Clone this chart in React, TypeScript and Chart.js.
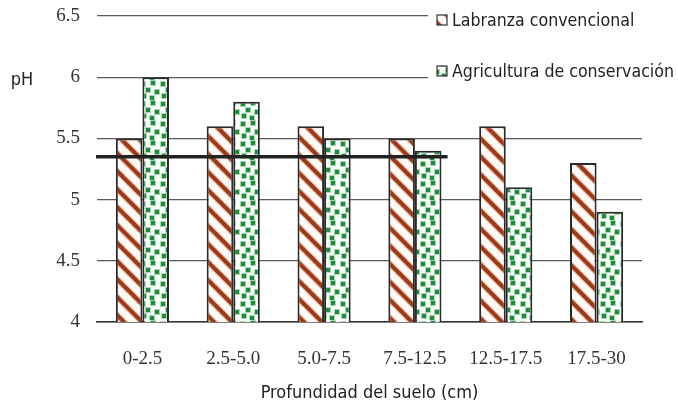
import React, { useEffect, useRef } from 'react';
import { Chart, registerables } from 'chart.js';

Chart.register(...registerables);

const categories = ['0-2.5', '2.5-5.0', '5.0-7.5', '7.5-12.5', '12.5-17.5', '17.5-30'];
const labranza = [5.5, 5.6, 5.6, 5.5, 5.6, 5.3];
const agricultura = [6.0, 5.8, 5.5, 5.4, 5.1, 4.9];
const seriesNames = ['Labranza convencional', 'Agricultura de conservación'];
const yMin = 4;
const yMax = 6.5;
const yStep = 0.5;
const refLineValue = 5.35;
const refLineLastCategory = 3;
const xTitle = 'Profundidad del suelo (cm)';
const yTitle = 'pH';

const NARROW = "'Liberation Sans Narrow', 'DejaVu Sans Condensed', 'Arial Narrow', sans-serif";
const SERIF = "'Liberation Serif', 'DejaVu Serif', serif";

function makeStripes(): CanvasPattern | string {
  const s = 18;
  const c = document.createElement('canvas');
  c.width = s;
  c.height = s;
  const g = c.getContext('2d');
  if (!g) return '#a23a14';
  g.fillStyle = '#fdfaf6';
  g.fillRect(0, 0, s, s);
  g.strokeStyle = 'rgba(170,75,35,0.35)';
  g.lineWidth = 6;
  for (let k = -1; k <= 1; k++) {
    g.beginPath();
    g.moveTo(k * s - 2, -2);
    g.lineTo(k * s + s + 2, s + 2);
    g.stroke();
  }
  g.strokeStyle = '#a03a16';
  g.lineWidth = 4;
  for (let k = -1; k <= 1; k++) {
    g.beginPath();
    g.moveTo(k * s - 2, -2);
    g.lineTo(k * s + s + 2, s + 2);
    g.stroke();
  }
  return g.createPattern(c, 'repeat') || '#a23a14';
}

function makeDots(): CanvasPattern | string {
  const s = 20;
  const c = document.createElement('canvas');
  c.width = s;
  c.height = s;
  const g = c.getContext('2d');
  if (!g) return '#1f8a3a';
  g.fillStyle = '#fbfdfb';
  g.fillRect(0, 0, s, s);
  const dots = [
    [1, 2], [11, 1], [6, 8], [15, 10], [2, 14], [10, 16],
  ];
  for (const [x, y] of dots) {
    g.fillStyle = 'rgba(70,170,90,0.45)';
    g.fillRect(x - 1, y - 1, 6, 6);
    g.fillStyle = '#1e8c3c';
    g.fillRect(x, y, 4, 4);
  }
  return g.createPattern(c, 'repeat') || '#1f8a3a';
}

export default function App() {
  const ref = useRef<HTMLCanvasElement | null>(null);

  useEffect(() => {
    if (!ref.current) return;
    const stripes = makeStripes();
    const dots = makeDots();
    const fills = [stripes, dots];

    const overlay = {
      id: 'overlay',
      afterDatasetsDraw(chart: any) {
        const { ctx, scales } = chart;
        const x = scales.x;
        const y = scales.y;
        const slot = x.getPixelForValue(1) - x.getPixelForValue(0);
        const x1 = x.left - 1;
        const x2 = x.getPixelForValue(refLineLastCategory) + slot * 0.36;
        const yy = y.getPixelForValue(refLineValue);
        ctx.save();
        ctx.strokeStyle = '#222';
        ctx.lineWidth = 3.5;
        ctx.beginPath();
        ctx.moveTo(x1, yy);
        ctx.lineTo(x2, yy);
        ctx.stroke();
        ctx.restore();
      },
      afterDraw(chart: any) {
        const { ctx } = chart;
        ctx.save();
        ctx.fillStyle = '#ffffff';
        ctx.fillRect(428, 0, 250, 92);
        const items = [20, 71];
        items.forEach((cy, i) => {
          ctx.fillStyle = fills[i];
          ctx.fillRect(437, cy - 5, 10, 10);
          ctx.strokeStyle = '#333';
          ctx.lineWidth = 1.2;
          ctx.strokeRect(437, cy - 5, 10, 10);
          ctx.fillStyle = '#222';
          ctx.font = `17.6px ${NARROW}`;
          ctx.textAlign = 'left';
          ctx.textBaseline = 'middle';
          ctx.fillText(seriesNames[i], 452, cy + 1);
        });
        ctx.fillStyle = '#222';
        ctx.font = `18px ${NARROW}`;
        ctx.textAlign = 'center';
        ctx.textBaseline = 'middle';
        ctx.fillText(yTitle, 22, 80);
        ctx.restore();
      },
    };

    const chart = new Chart(ref.current, {
      type: 'bar',
      data: {
        labels: categories,
        datasets: [
          {
            label: seriesNames[0],
            data: labranza,
            backgroundColor: stripes as any,
            borderColor: '#2a2a2a',
            borderWidth: 2,
          },
          {
            label: seriesNames[1],
            data: agricultura,
            backgroundColor: dots as any,
            borderColor: '#2a2a2a',
            borderWidth: 2,
          },
        ],
      },
      options: {
        responsive: false,
        animation: false,
        layout: { padding: { left: 0, right: 36, top: 16, bottom: 0 } },
        plugins: {
          legend: { display: false },
          tooltip: { enabled: false },
          title: { display: false },
        },
        datasets: {
          bar: { categoryPercentage: 0.585, barPercentage: 1 },
        },
        scales: {
          x: {
            grid: { display: false },
            border: { display: true, color: '#333', width: 1.5 },
            ticks: {
              color: '#333',
              font: { family: SERIF, size: 19 },
              padding: 18,
              maxRotation: 0,
            },
            title: {
              display: true,
              text: xTitle,
              color: '#222',
              font: { family: NARROW, size: 18 },
              padding: { top: 0, bottom: 4 },
            },
            afterFit(scale: any) {
              scale.height = 86;
              scale.paddingLeft = 0;
              scale.paddingRight = 0;
            },
          },
          y: {
            min: yMin,
            max: yMax,
            grid: {
              drawTicks: false,
              color: (c: any) => (c.tick && c.tick.value === yMin ? '#333' : '#5a5a5a'),
              lineWidth: 1.2,
            },
            border: { display: false },
            ticks: {
              stepSize: yStep,
              color: '#333',
              font: { family: SERIF, size: 19 },
              padding: 17,
              callback: (v: any) => String(Number(v)),
            },
            afterFit(scale: any) {
              scale.width = 97;
              scale.paddingTop = 0;
              scale.paddingBottom = 0;
            },
          },
        },
      },
      plugins: [overlay],
    });
    return () => chart.destroy();
  }, []);

  return (
    <div style={{ position: 'absolute', left: 0, top: 0, width: 678, height: 408, background: '#fff' }}>
      <canvas ref={ref} width={678} height={408} style={{ display: 'block' }} />
    </div>
  );
}
